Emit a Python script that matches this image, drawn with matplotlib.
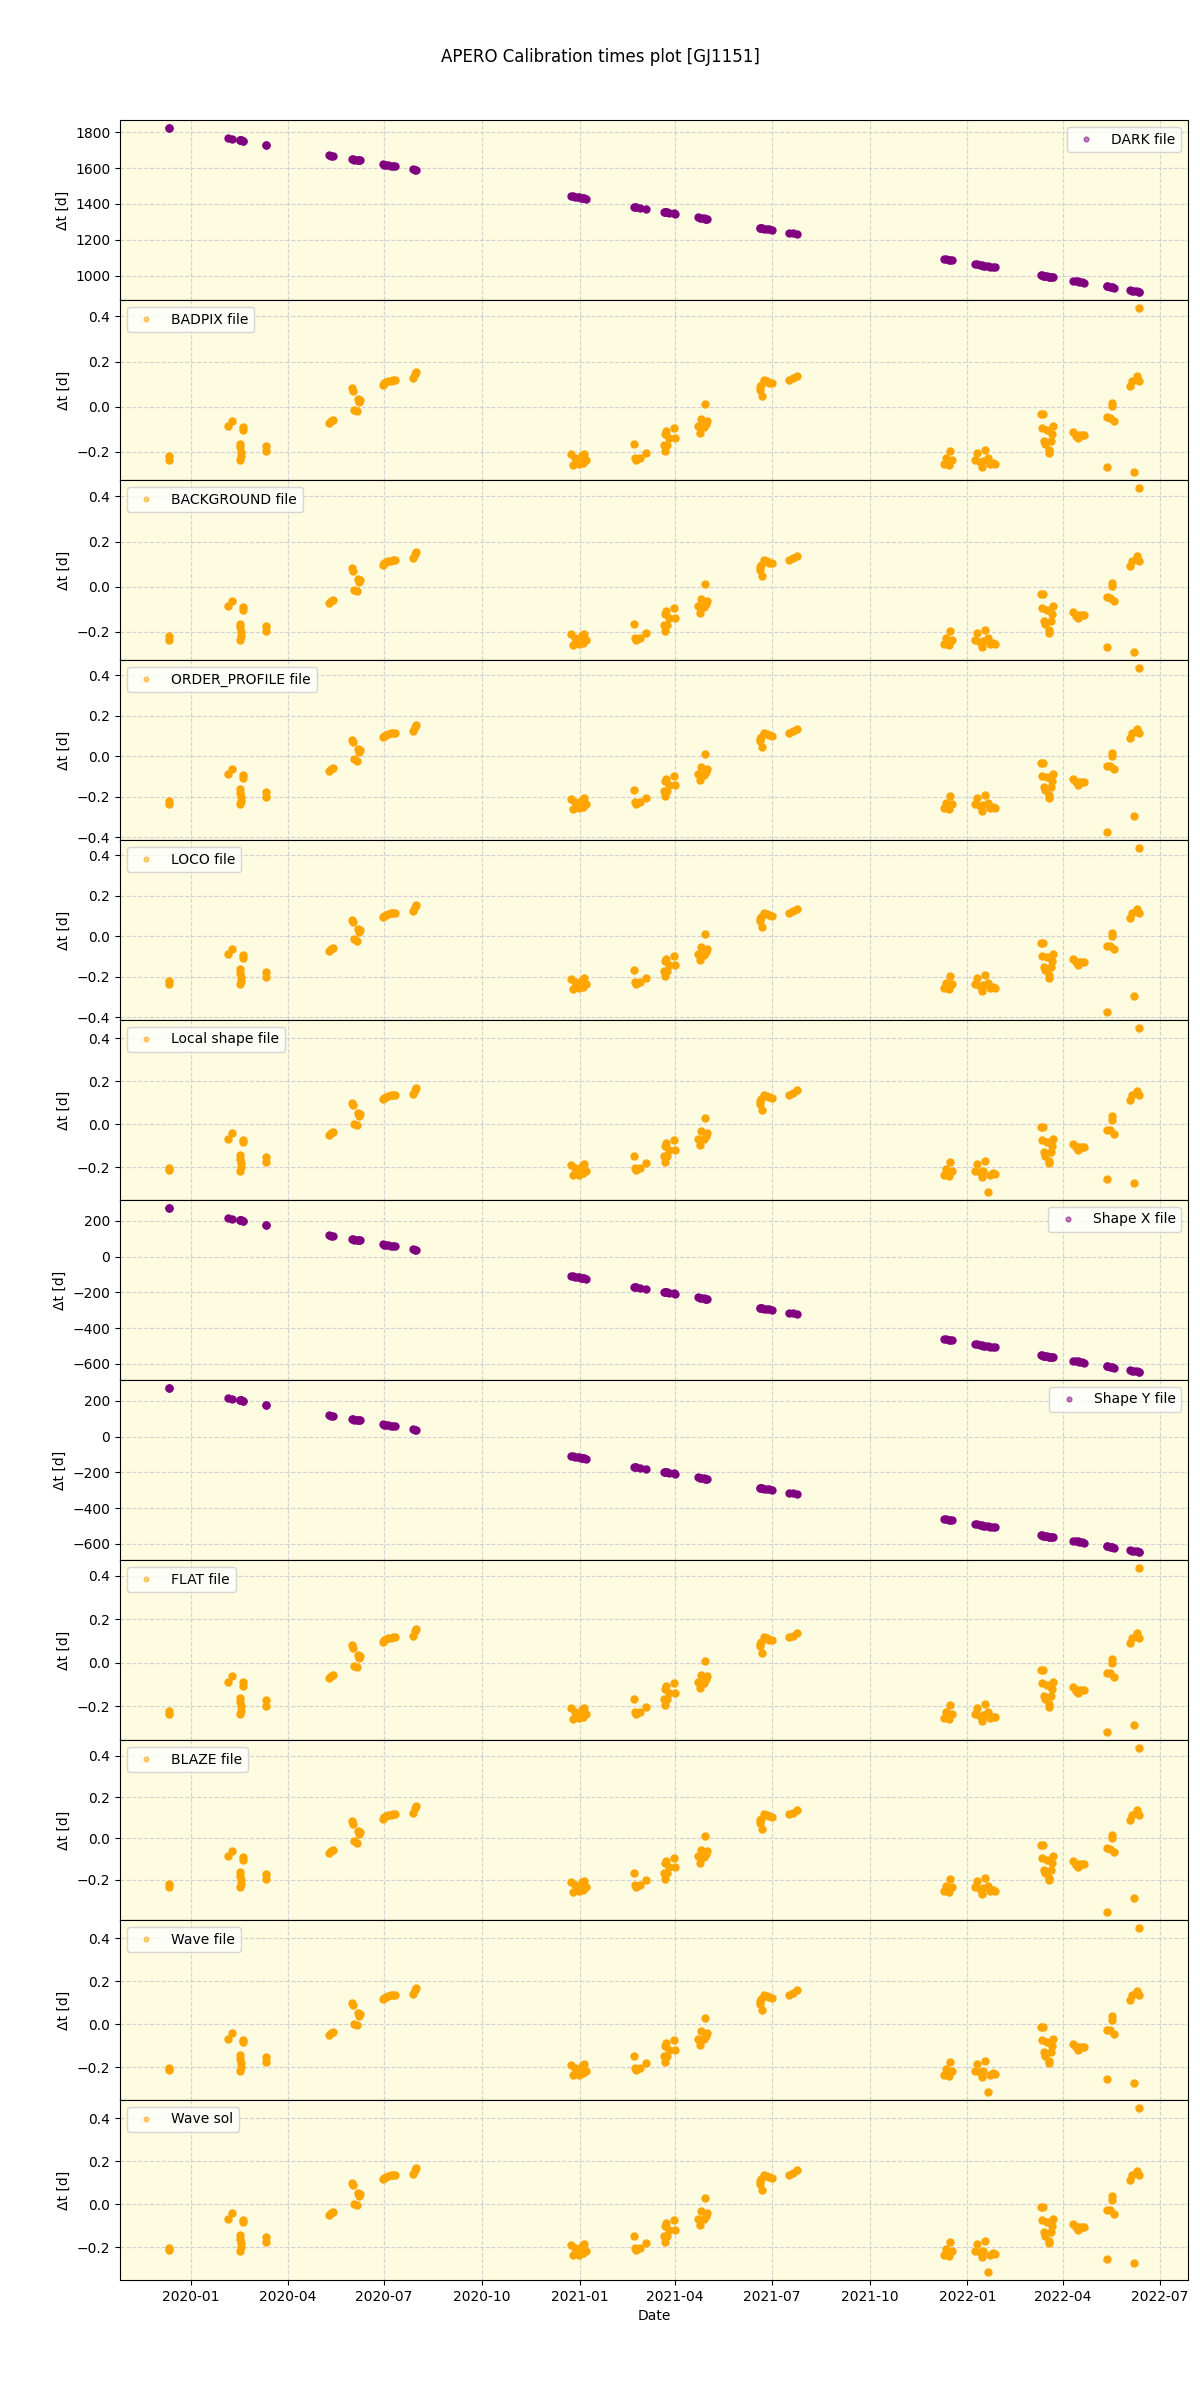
import matplotlib
matplotlib.use("Agg")
import matplotlib.pyplot as plt
import matplotlib.dates as mdates
import pandas as pd

# observation nights (one entry per science file)
obs_dates = [
    '2019-12-11', '2019-12-11', '2020-02-05', '2020-02-09', '2020-02-16', '2020-02-16', '2020-02-17',
    '2020-02-17', '2020-02-16', '2020-02-19', '2020-02-19', '2020-03-12', '2020-03-12',
    '2020-05-10', '2020-05-12', '2020-05-14', '2020-06-01', '2020-06-02', '2020-06-03', '2020-06-05',
    '2020-06-06', '2020-06-07', '2020-06-08',
    '2020-06-30', '2020-07-01', '2020-07-03', '2020-07-05', '2020-07-07', '2020-07-09', '2020-07-11',
    '2020-07-28', '2020-07-30', '2020-07-31',
    '2020-12-24', '2020-12-26', '2020-12-28', '2020-12-30', '2020-12-31', '2021-01-02', '2021-01-03',
    '2021-01-05', '2021-01-07', '2021-01-04',
    '2021-02-21', '2021-02-22', '2021-02-23', '2021-02-27', '2021-03-04',
    '2021-03-21', '2021-03-22', '2021-03-23', '2021-03-24', '2021-03-22', '2021-03-26', '2021-03-31', '2021-04-01',
    '2021-04-22', '2021-04-24', '2021-04-25', '2021-04-28', '2021-04-29', '2021-05-01', '2021-04-30',
    '2021-06-20', '2021-06-20', '2021-06-21', '2021-06-22', '2021-06-24', '2021-06-26', '2021-06-28', '2021-07-01',
    '2021-07-17', '2021-07-21', '2021-07-25',
    '2021-12-10', '2021-12-12', '2021-12-15', '2021-12-16', '2021-12-18',
    '2022-01-08', '2022-01-10', '2022-01-13', '2022-01-15', '2022-01-18', '2022-01-20', '2022-01-22',
    '2022-01-25', '2022-01-27', '2022-01-16',
    '2022-03-11', '2022-03-13', '2022-03-12', '2022-03-17', '2022-03-23', '2022-03-22', '2022-03-14',
    '2022-03-15', '2022-03-21', '2022-03-19', '2022-03-19',
    '2022-04-10', '2022-04-13', '2022-04-16', '2022-04-19', '2022-04-21', '2022-04-15',
    '2022-05-12', '2022-05-15', '2022-05-19', '2022-05-17', '2022-05-17',
    '2022-06-03', '2022-06-05', '2022-06-10', '2022-06-12', '2022-06-12',
]
late_dates = ['2022-05-12', '2022-06-07']

dark_dt = [
    1823, 1823, 1767, 1763, 1756, 1756, 1755, 1755, 1756, 1753, 1753, 1731, 1731,
    1672, 1670, 1668, 1650, 1649, 1648, 1646, 1645, 1644, 1643,
    1621, 1620, 1618, 1616, 1614, 1612, 1610, 1593, 1591, 1590,
    1444, 1442, 1440, 1438, 1437, 1435, 1434, 1432, 1430, 1433,
    1385, 1384, 1383, 1379, 1374,
    1357, 1356, 1355, 1354, 1356, 1352, 1347, 1346,
    1325, 1323, 1322, 1319, 1318, 1316, 1317,
    1266, 1266, 1265, 1264, 1262, 1260, 1258, 1255,
    1239, 1235, 1231,
    1093, 1091, 1088, 1087, 1085,
    1064, 1062, 1059, 1057, 1054, 1052, 1050, 1047, 1045, 1056,
    1002, 1000, 1001, 996, 990, 991, 999, 998, 992, 994, 994,
    972, 969, 966, 963, 961, 967,
    940, 937, 933, 935, 935,
    918, 916, 911, 909, 909,
]
dark_late = [940, 914]

shape_dt = [
    270, 270, 214, 210, 203, 203, 202, 202, 203, 200, 200, 178, 178,
    119, 117, 115, 97, 96, 95, 93, 92, 91, 90,
    68, 67, 65, 63, 61, 59, 57, 40, 38, 37,
    -109, -111, -113, -115, -116, -118, -119, -121, -123, -120,
    -168, -169, -170, -174, -179,
    -196, -197, -198, -199, -197, -201, -206, -207,
    -228, -230, -231, -234, -235, -237, -236,
    -287, -287, -288, -289, -291, -293, -295, -298,
    -314, -318, -322,
    -460, -462, -465, -466, -468,
    -489, -491, -494, -496, -499, -501, -503, -506, -508, -497,
    -551, -553, -552, -557, -563, -562, -554, -555, -561, -559, -559,
    -581, -584, -587, -590, -592, -586,
    -613, -616, -620, -618, -618,
    -635, -637, -642, -644, -644,
]
shape_late = [-613, -639]

# dt for BADPIX / BACKGROUND / ORDER_PROFILE / LOCO / FLAT / BLAZE
dt_cal = [
    -0.220, -0.235, -0.087, -0.061, -0.163, -0.180, -0.200, -0.220, -0.237, -0.090, -0.105, -0.173, -0.198,
    -0.070, -0.062, -0.058, 0.083, 0.070, -0.014, -0.021, 0.035, 0.022, 0.030,
    0.095, 0.103, 0.108, 0.112, 0.115, 0.118, 0.117, 0.125, 0.145, 0.155,
    -0.210, -0.258, -0.225, -0.240, -0.255, -0.237, -0.213, -0.207, -0.237, -0.248,
    -0.166, -0.225, -0.234, -0.225, -0.203,
    -0.169, -0.121, -0.109, -0.169, -0.195, -0.140, -0.094, -0.139,
    -0.087, -0.118, -0.054, -0.091, 0.010, -0.061, -0.076,
    0.076, 0.088, 0.095, 0.046, 0.118, 0.113, 0.106, 0.103,
    0.118, 0.125, 0.137,
    -0.255, -0.228, -0.260, -0.195, -0.237,
    -0.237, -0.206, -0.243, -0.267, -0.192, -0.228, -0.255, -0.248, -0.252, -0.240,
    -0.031, -0.031, -0.094, -0.103, -0.087, -0.121, -0.151, -0.166, -0.151, -0.192, -0.203,
    -0.110, -0.128, -0.125, -0.125, -0.124, -0.139,
    -0.046, -0.049, -0.064, 0.018, 0.001,
    0.091, 0.115, 0.136, 0.115, 0.436,
]

# dt for Local shape / Wave file / Wave sol
dt_wave = [
    -0.205, -0.215, -0.067, -0.042, -0.144, -0.160, -0.180, -0.200, -0.217, -0.072, -0.085, -0.151, -0.178,
    -0.050, -0.042, -0.038, 0.100, 0.088, 0.002, -0.004, 0.052, 0.040, 0.047,
    0.115, 0.123, 0.128, 0.132, 0.135, 0.138, 0.137, 0.142, 0.160, 0.168,
    -0.190, -0.238, -0.205, -0.220, -0.235, -0.217, -0.193, -0.187, -0.217, -0.228,
    -0.146, -0.205, -0.214, -0.205, -0.183,
    -0.149, -0.101, -0.089, -0.149, -0.175, -0.120, -0.074, -0.119,
    -0.067, -0.098, -0.034, -0.071, 0.030, -0.041, -0.056,
    0.096, 0.108, 0.115, 0.066, 0.138, 0.133, 0.126, 0.123,
    0.138, 0.145, 0.157,
    -0.235, -0.208, -0.240, -0.175, -0.217,
    -0.217, -0.186, -0.223, -0.247, -0.172, -0.315, -0.235, -0.228, -0.232, -0.220,
    -0.011, -0.011, -0.074, -0.083, -0.067, -0.101, -0.131, -0.146, -0.131, -0.172, -0.183,
    -0.090, -0.108, -0.105, -0.105, -0.104, -0.119,
    -0.026, -0.029, -0.044, 0.038, 0.021,
    0.111, 0.135, 0.156, 0.135, 0.447,
]

# the two late outliers differ from file type to file type
late_dt = {
    'BADPIX file': [-0.267, -0.288],
    'BACKGROUND file': [-0.267, -0.288],
    'ORDER_PROFILE file': [-0.372, -0.292],
    'LOCO file': [-0.372, -0.292],
    'Local shape file': [-0.253, -0.273],
    'FLAT file': [-0.318, -0.288],
    'BLAZE file': [-0.355, -0.288],
    'Wave file': [-0.253, -0.273],
    'Wave sol': [-0.253, -0.273],
}

labels = ['DARK file', 'BADPIX file', 'BACKGROUND file', 'ORDER_PROFILE file', 'LOCO file',
          'Local shape file', 'Shape X file', 'Shape Y file', 'FLAT file', 'BLAZE file',
          'Wave file', 'Wave sol']

dates = pd.to_datetime(obs_dates + late_dates)

fig, axes = plt.subplots(12, 1, figsize=(12, 24), dpi=100, sharex=True)
fig.subplots_adjust(left=0.1, right=0.99, top=0.95, bottom=0.05, hspace=0)

for ax, label in zip(axes, labels):
    if label == 'DARK file':
        y, color, loc = dark_dt + dark_late, 'purple', 'upper right'
    elif label.startswith('Shape'):
        y, color, loc = shape_dt + shape_late, 'purple', 'upper right'
    elif label in ('Local shape file', 'Wave file', 'Wave sol'):
        y, color, loc = dt_wave + late_dt[label], 'orange', 'upper left'
    else:
        y, color, loc = dt_cal + late_dt[label], 'orange', 'upper left'
    ax.set_facecolor('#fdfbe0')
    ax.plot(dates, y, 'o', color=color, ms=5, label=label)
    ax.grid(True, linestyle='--', color='#c8c8d0', alpha=0.8)
    ax.set_ylabel('Δt [d]')
    leg = ax.legend(loc=loc, markerscale=0.7)
    leg.legend_handles[0].set_alpha(0.5)

axes[-1].xaxis.set_major_locator(mdates.MonthLocator(bymonth=[1, 4, 7, 10]))
axes[-1].xaxis.set_major_formatter(mdates.DateFormatter('%Y-%m'))
axes[-1].set_xlabel('Date')
fig.suptitle('APERO Calibration times plot [GJ1151]')

plt.savefig('out.png')
